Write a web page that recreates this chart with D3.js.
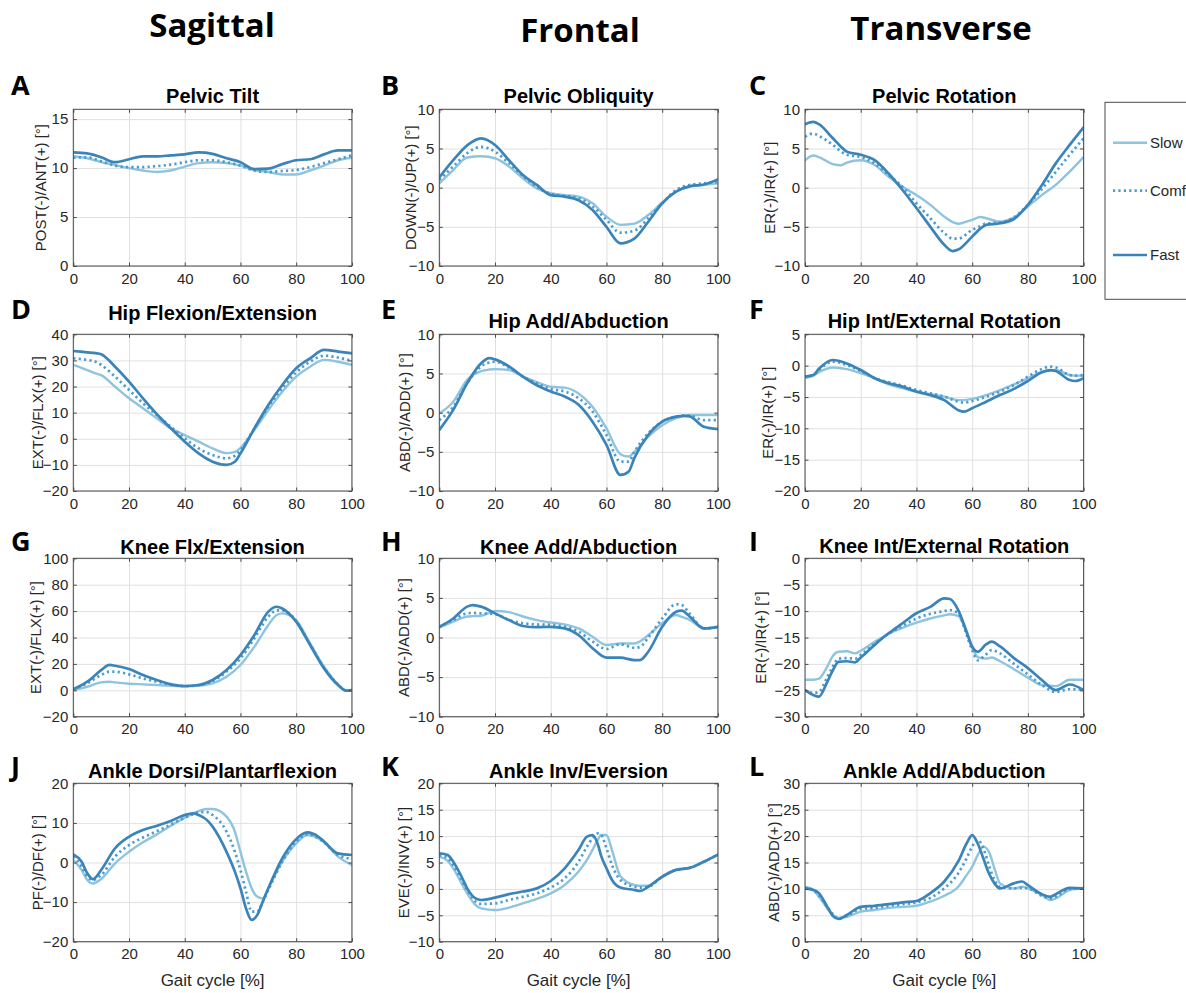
<!DOCTYPE html>
<html>
<head>
<meta charset="utf-8">
<script src="https://cdn.jsdelivr.net/npm/d3@7"></script>
<style>
  html, body { margin: 0; padding: 0; background: #ffffff; }
  svg { display: block; }
</style>
</head>
<body>
<svg id="fig" width="1186" height="993"></svg>
<script>
// ---------------------------------------------------------------
// Joint kinematics over the gait cycle at three walking speeds
// ---------------------------------------------------------------
const speeds = ["Slow", "Comfortable", "Fast"];
const gaitTicks = [0, 20, 40, 60, 80, 100];
const planes = ["Sagittal", "Frontal", "Transverse"];

// A — Pelvic tilt
const pelvicTiltX    = [0,5,10,15,20,25,30,35,40,45,50,55,60,65,70,75,80,85,90,95,100];
const pelvicTiltSlow = [11.2,11.0,10.6,10.3,10.0,9.75,9.6,9.75,10.15,10.5,10.6,10.5,10.25,9.8,9.6,9.35,9.35,9.75,10.25,10.8,11.05];
const pelvicTiltComf = [11.05,11.1,10.7,10.25,10.1,10.1,10.2,10.35,10.6,10.8,10.8,10.6,10.25,9.75,9.6,9.7,9.8,10.1,10.5,10.9,11.3];
const pelvicTiltFast = [11.6,11.5,11.1,10.6,10.9,11.2,11.2,11.3,11.4,11.6,11.45,11.0,10.6,9.9,9.95,10.4,10.8,10.9,11.4,11.8,11.8];
const pelvicTiltTicks = [0,5,10,15];

// B — Pelvic obliquity
const pelvicOblX    = [0,5,10,15,20,25,30,35,40,45,50,55,60,65,70,75,80,85,90,95,100];
const pelvicOblSlow = [0.55,2.25,3.85,4.0,3.75,2.7,1.2,-0.1,-0.7,-0.95,-1.15,-2.0,-3.7,-4.75,-4.6,-3.5,-1.9,-0.5,0.15,0.35,0.55];
const pelvicOblComf = [1.0,2.7,4.4,5.2,4.6,3.1,1.5,0.1,-0.8,-1.05,-1.35,-2.4,-4.1,-5.75,-5.5,-3.9,-2.0,-0.3,0.35,0.55,0.75];
const pelvicOblFast = [1.3,3.5,5.4,6.3,5.45,3.5,1.6,0.35,-0.95,-1.15,-1.6,-2.85,-5.0,-7.1,-6.5,-4.35,-2.0,-0.5,0.2,0.4,1.05];
const pelvicOblTicks = [-10,-5,0,5,10];

// C — Pelvic rotation
const pelvicRotX    = [0,3,5,10,13,15,20,25,30,35,40,45,50,53,55,60,63,65,70,75,80,85,90,95,100];
const pelvicRotSlow = [3.5,4.1,3.9,3.0,2.85,3.2,3.5,2.9,1.4,0.1,-0.95,-2.2,-3.7,-4.4,-4.6,-4.1,-3.75,-3.9,-4.35,-3.8,-2.4,-0.95,0.35,2.05,3.9];
const pelvicRotComf = [6.5,6.9,6.6,5.45,4.6,4.2,3.9,3.1,1.6,0.1,-2.0,-3.9,-5.8,-6.5,-6.5,-5.4,-4.9,-4.6,-4.45,-3.8,-2.2,-0.2,2.0,4.2,6.3];
const pelvicRotFast = [8.1,8.4,8.1,6.3,5.2,4.6,4.2,3.5,1.8,-0.3,-2.6,-5.0,-7.3,-8.1,-7.9,-6.25,-5.2,-4.75,-4.55,-4.0,-2.2,0.3,3.1,5.45,7.7];
const pelvicRotTicks = [-10,-5,0,5,10];

// D — Hip flexion/extension
const hipFlexX    = [0,5,8,10,15,20,25,30,35,40,45,50,55,58,60,65,70,75,80,85,90,95,100];
const hipFlexSlow = [28.3,26.3,25.0,24.4,19.9,15.5,11.7,7.8,4.0,1.4,-1.1,-3.7,-5.5,-5.0,-3.5,3.4,11.0,18.0,23.8,27.6,30.2,29.5,28.3];
const hipFlexComf = [30.8,30.2,29.5,28.3,23.8,18.7,13.6,9.1,4.6,0.2,-3.7,-6.2,-7.5,-6.5,-4.3,4.0,12.3,19.3,25.4,29.5,31.8,31.1,29.8];
const hipFlexFast = [33.6,33.1,32.8,32.4,27.6,21.9,15.5,9.4,4.0,-1.1,-5.6,-8.8,-10.0,-8.8,-5.6,4.0,12.9,20.6,27.0,30.8,34.0,33.4,32.7];
const hipFlexTicks = [-20,-10,0,10,20,30,40];

// E — Hip adduction/abduction
const hipAddX    = [0,5,10,15,18,20,25,30,35,40,45,50,55,60,65,68,70,75,80,85,88,90,95,100];
const hipAddSlow = [-0.1,1.4,4.2,5.3,5.5,5.55,5.45,4.6,3.9,3.3,3.2,2.45,0.75,-2.0,-5.3,-5.6,-5.0,-3.05,-1.6,-0.7,-0.4,-0.3,-0.3,-0.3];
const hipAddComf = [-0.95,0.75,3.75,5.9,6.4,6.5,5.75,4.6,3.75,3.0,2.7,1.85,0.15,-2.85,-6.25,-6.25,-5.0,-2.65,-1.15,-0.5,-0.35,-0.4,-0.95,-0.95];
const hipAddFast = [-2.2,0.35,3.75,6.3,6.95,6.8,5.9,4.6,3.5,2.7,2.05,1.0,-1.15,-4.1,-7.95,-7.5,-5.8,-2.85,-1.15,-0.5,-0.4,-0.5,-1.8,-2.1];
const hipAddTicks = [-10,-5,0,5,10];

// F — Hip internal/external rotation
const hipRotX    = [0,3,5,10,15,20,25,30,35,40,45,50,55,57,60,65,70,75,80,85,88,90,95,97,100];
const hipRotSlow = [-2.0,-1.6,-1.05,-0.3,-0.55,-1.2,-2.0,-3.0,-3.6,-4.15,-4.55,-4.95,-5.5,-5.5,-5.3,-4.7,-3.9,-3.0,-2.0,-1.05,-0.8,-0.7,-1.5,-1.6,-1.6];
const hipRotComf = [-1.75,-1.5,-0.7,0.65,0.1,-0.85,-2.0,-2.65,-3.2,-3.9,-4.4,-4.95,-5.75,-5.9,-5.65,-4.95,-4.15,-3.1,-1.75,-0.55,-0.15,-0.3,-1.5,-1.6,-1.5];
const hipRotFast = [-1.75,-1.5,-0.5,0.9,0.35,-0.7,-2.0,-2.8,-3.35,-4.15,-4.7,-5.5,-7.1,-7.35,-6.8,-5.75,-4.7,-3.7,-2.45,-1.05,-0.7,-0.85,-2.3,-2.45,-2.0];
const hipRotTicks = [-20,-15,-10,-5,0,5];

// G — Knee flexion/extension
const kneeFlexX    = [0,5,10,13,15,20,25,30,35,40,45,50,55,60,65,70,73,75,80,85,90,95,98,100];
const kneeFlexSlow = [0.2,2.7,6.0,6.5,6.0,5.0,4.5,4.0,3.5,3.2,3.5,5.3,10.3,19.2,33.1,49.5,57.1,58.3,53.0,35.5,17.9,4.5,-0.3,0.2];
const kneeFlexComf = [0.7,5.3,11.6,14.1,14.1,12.1,9.0,6.5,4.5,3.2,4.0,7.0,14.1,24.2,39.4,55.8,60.6,60.6,52.5,34.8,17.1,4.5,-0.3,0.2];
const kneeFlexFast = [0.7,6.5,15.3,19.2,18.6,16.1,11.6,7.8,4.5,3.2,4.0,7.8,15.3,26.7,41.9,59.6,63.3,62.0,52.0,34.3,16.6,4.0,-0.3,0.2];
const kneeFlexTicks = [-20,0,20,40,60,80,100];

// H — Knee adduction/abduction
const kneeAddX    = [0,5,10,12,15,20,25,30,35,40,45,50,55,60,65,70,72,75,80,85,87,90,95,100];
const kneeAddSlow = [1.25,2.0,2.65,2.7,2.75,3.35,3.2,2.65,2.2,1.9,1.65,1.15,0.1,-0.95,-0.75,-0.75,-0.5,0.3,1.8,2.85,2.6,2.2,1.15,1.35];
const kneeAddComf = [1.35,2.2,3.05,3.1,3.05,2.95,2.2,1.8,1.65,1.6,1.35,0.75,-0.5,-1.45,-0.85,-1.3,-1.2,0.0,2.4,4.2,4.1,2.95,1.15,1.35];
const kneeAddFast = [1.35,2.4,3.9,4.1,3.9,3.05,2.2,1.45,1.3,1.35,1.15,0.3,-1.35,-2.55,-2.55,-2.85,-2.85,-1.8,1.35,3.25,3.4,2.6,1.15,1.35];
const kneeAddTicks = [-10,-5,0,5,10];

// I — Knee internal/external rotation
const kneeRotX    = [0,3,5,8,10,12,15,18,20,25,30,35,40,45,50,52,55,58,60,62,65,67,70,75,80,85,90,95,100];
const kneeRotSlow = [-23.0,-23.0,-22.8,-20.5,-18.5,-17.7,-17.6,-18.0,-17.5,-15.8,-14.3,-13.2,-12.2,-11.4,-10.8,-10.6,-10.9,-14.0,-17.0,-18.7,-19.0,-18.8,-19.5,-21.0,-22.6,-24.0,-24.2,-23.0,-23.0];
const kneeRotComf = [-25.0,-25.5,-25.3,-22.5,-20.5,-19.0,-18.9,-19.0,-18.3,-16.2,-14.3,-12.8,-11.4,-10.5,-10.0,-9.8,-10.4,-14.5,-17.4,-19.3,-18.2,-17.4,-18.0,-20.0,-22.0,-24.0,-25.3,-24.8,-24.9];
const kneeRotFast = [-24.95,-25.9,-26.2,-23.4,-21.2,-19.6,-19.5,-19.7,-18.8,-16.4,-14.2,-12.3,-10.4,-9.2,-7.6,-7.7,-9.8,-13.9,-16.7,-17.7,-16.3,-15.8,-16.7,-18.9,-20.8,-23.05,-24.95,-23.9,-24.95];
const kneeRotTicks = [-30,-25,-20,-15,-10,-5,0];

// J — Ankle dorsi/plantarflexion
const ankleFlexX    = [0,3,5,7,10,15,20,25,30,35,40,43,45,48,50,55,58,60,62,64,66,68,70,75,80,84,88,90,95,100];
const ankleFlexSlow = [0.6,-1.9,-4.4,-5.3,-4.2,-0.2,2.7,5.1,7.1,9.3,11.3,12.4,13.0,13.5,13.5,11.6,7.8,2.7,-2.3,-6.5,-8.6,-9.05,-6.5,0.2,4.8,6.95,6.1,5.1,1.5,-0.6];
const ankleFlexComf = [1.5,-1.0,-3.6,-4.4,-3.2,1.5,4.4,6.3,7.9,9.6,11.3,12.2,12.7,12.7,12.0,7.8,2.7,-1.9,-7.4,-12.4,-12.4,-9.9,-6.95,0.2,5.3,7.1,6.1,5.1,1.9,0.9];
const ankleFlexFast = [2.05,0.2,-2.7,-4.2,-1.9,3.6,6.5,8.2,9.3,10.5,12.0,12.4,12.0,10.7,9.05,2.7,-2.3,-6.5,-11.6,-14.5,-13.3,-9.9,-6.5,1.05,5.9,7.6,6.5,5.3,2.3,1.9];
const ankleFlexTicks = [-20,-10,0,10,20];

// K — Ankle inversion/eversion
const ankleInvX    = [0,3,5,8,10,13,15,20,25,30,35,40,45,50,53,55,57,58,60,62,65,70,72,75,80,85,90,95,100];
const ankleInvSlow = [6.1,5.3,3.9,1.05,-0.85,-3.05,-3.7,-4.0,-3.55,-2.75,-1.9,-0.85,0.75,3.3,5.5,7.4,9.4,10.2,10.2,7.3,2.4,0.75,0.6,0.6,2.3,3.6,4.0,5.15,6.5];
const ankleInvComf = [6.4,5.8,4.5,1.7,-0.2,-2.4,-2.85,-2.75,-2.1,-1.5,-0.85,0.25,2.0,5.15,8.0,9.6,10.5,10.3,7.7,4.5,1.7,0.4,0.25,0.4,2.3,3.6,4.0,5.15,6.5];
const ankleInvFast = [6.75,6.4,5.15,2.3,0.1,-1.8,-2.1,-1.65,-1.0,-0.5,0.1,1.5,3.9,7.4,9.9,10.2,8.3,6.4,3.9,1.7,0.25,-0.2,-0.4,0.4,2.3,3.6,4.0,5.15,6.5];
const ankleInvTicks = [-10,-5,0,5,10,15,20];

// L — Ankle adduction/abduction
const ankleAddX    = [0,3,5,8,10,12,15,20,25,30,35,40,45,50,55,58,60,62,64,66,68,70,75,78,80,85,88,90,95,100];
const ankleAddSlow = [10.4,9.8,8.5,6.3,5.05,4.5,4.7,5.7,6.0,6.4,6.6,6.8,7.6,8.7,10.4,12.6,14.2,16.4,18.0,17.05,13.9,11.05,10.1,10.4,10.1,8.85,7.9,8.2,9.8,10.1];
const ankleAddComf = [10.2,9.8,8.8,6.6,5.2,4.4,4.9,6.2,6.4,6.8,7.1,7.45,8.3,10.1,12.95,15.8,18.0,19.3,17.7,14.5,11.7,10.4,10.1,10.2,10.1,8.7,8.2,8.5,10.0,10.1];
const ankleAddFast = [10.1,9.8,9.2,6.6,4.9,4.3,5.05,6.6,6.8,7.1,7.45,7.7,9.2,11.4,15.2,18.6,20.2,18.6,15.8,12.95,11.05,10.1,11.05,11.4,10.7,9.0,8.5,9.0,10.2,10.1];
const ankleAddTicks = [0,5,10,15,20,25,30];

// Panel table (reading order: rows = joints, columns = planes)
const panels = [
  { letter: "A", title: "Pelvic Tilt", ylabel: "POST(-)/ANT(+) [°]", domain: [0, 16], ticks: pelvicTiltTicks, x: pelvicTiltX, slow: pelvicTiltSlow, comf: pelvicTiltComf, fast: pelvicTiltFast },
  { letter: "B", title: "Pelvic Obliquity", ylabel: "DOWN(-)/UP(+) [°]", domain: [-10, 10], ticks: pelvicOblTicks, x: pelvicOblX, slow: pelvicOblSlow, comf: pelvicOblComf, fast: pelvicOblFast },
  { letter: "C", title: "Pelvic Rotation", ylabel: "ER(-)/IR(+) [°]", domain: [-10, 10], ticks: pelvicRotTicks, x: pelvicRotX, slow: pelvicRotSlow, comf: pelvicRotComf, fast: pelvicRotFast },
  { letter: "D", title: "Hip Flexion/Extension", ylabel: "EXT(-)/FLX(+) [°]", domain: [-20, 40], ticks: hipFlexTicks, x: hipFlexX, slow: hipFlexSlow, comf: hipFlexComf, fast: hipFlexFast },
  { letter: "E", title: "Hip Add/Abduction", ylabel: "ABD(-)/ADD(+) [°]", domain: [-10, 10], ticks: hipAddTicks, x: hipAddX, slow: hipAddSlow, comf: hipAddComf, fast: hipAddFast },
  { letter: "F", title: "Hip Int/External Rotation", ylabel: "ER(-)/IR(+) [°]", domain: [-20, 5], ticks: hipRotTicks, x: hipRotX, slow: hipRotSlow, comf: hipRotComf, fast: hipRotFast },
  { letter: "G", title: "Knee Flx/Extension", ylabel: "EXT(-)/FLX(+) [°]", domain: [-20, 100], ticks: kneeFlexTicks, x: kneeFlexX, slow: kneeFlexSlow, comf: kneeFlexComf, fast: kneeFlexFast },
  { letter: "H", title: "Knee Add/Abduction", ylabel: "ABD(-)/ADD(+) [°]", domain: [-10, 10], ticks: kneeAddTicks, x: kneeAddX, slow: kneeAddSlow, comf: kneeAddComf, fast: kneeAddFast },
  { letter: "I", title: "Knee Int/External Rotation", ylabel: "ER(-)/IR(+) [°]", domain: [-30, 0], ticks: kneeRotTicks, x: kneeRotX, slow: kneeRotSlow, comf: kneeRotComf, fast: kneeRotFast },
  { letter: "J", title: "Ankle Dorsi/Plantarflexion", ylabel: "PF(-)/DF(+) [°]", domain: [-20, 20], ticks: ankleFlexTicks, x: ankleFlexX, slow: ankleFlexSlow, comf: ankleFlexComf, fast: ankleFlexFast },
  { letter: "K", title: "Ankle Inv/Eversion", ylabel: "EVE(-)/INV(+) [°]", domain: [-10, 20], ticks: ankleInvTicks, x: ankleInvX, slow: ankleInvSlow, comf: ankleInvComf, fast: ankleInvFast },
  { letter: "L", title: "Ankle Add/Abduction", ylabel: "ABD(-)/ADD(+) [°]", domain: [0, 30], ticks: ankleAddTicks, x: ankleAddX, slow: ankleAddSlow, comf: ankleAddComf, fast: ankleAddFast }
];

// ---------------------------------------------------------------
// Layout and styling
// ---------------------------------------------------------------
const FONT = '"Liberation Sans", Arial, Helvetica, sans-serif';
const HEAD_FONT = '"Open Sans", "Noto Sans", sans-serif';
const AXIS_COLOR = "#4a4a4a";
const TEXT_COLOR = "#262626";
const GRID_COLOR = "#e0e0e0";

const colLeft = [73.3, 439.3, 805];
const plotW = 278.6;
const rowTop = [109.3, 334.3, 558.3, 783.3];
const rowH = [156.7, 156.7, 158.4, 158.4];
const titleBase = [103, 103, 103, 320, 328, 328, 554, 554, 553, 778, 778, 778];
const ylabelOffset = [33, 29, 35, 36, 35, 37, 38, 36, 44, 36, 36, 31];
const letterX = [11, 381, 749];
const letterBase = [95, 319, 551, 776];
const headerX = [212, 580, 941];
const headerBase = [37, 42, 40];

const seriesStyle = {
  slow: { color: "#8ec4de", width: 2.4, dash: null },
  comf: { color: "#4b9bd0", width: 2.7, dash: "2.2,3.2" },
  fast: { color: "#3a84ba", width: 2.7, dash: null }
};

const svg = d3.select("#fig");
svg.append("rect").attr("width", 1186).attr("height", 993).attr("fill", "#ffffff");

// Column headers
svg.selectAll("text.plane").data(planes).join("text")
  .attr("class", "plane")
  .attr("x", (d, i) => headerX[i])
  .attr("y", (d, i) => headerBase[i])
  .attr("text-anchor", "middle")
  .attr("font-family", HEAD_FONT)
  .attr("font-weight", 700)
  .attr("font-size", 33)
  .attr("fill", "#000")
  .text(d => d);

const defs = svg.append("defs");

panels.forEach((p, i) => {
  const col = i % 3, row = Math.floor(i / 3);
  const W = plotW, H = rowH[row];
  const left = colLeft[col], top = rowTop[row];

  const x = d3.scaleLinear().domain([0, 100]).range([0, W]);
  const y = d3.scaleLinear().domain(p.domain).range([H, 0]);

  const g = svg.append("g").attr("transform", `translate(${left},${top})`);

  // Grid
  const gx = g.append("g").attr("transform", `translate(0,${H})`)
    .call(d3.axisBottom(x).tickValues(gaitTicks).tickSize(-H).tickFormat(""));
  const gy = g.append("g")
    .call(d3.axisLeft(y).tickValues(p.ticks).tickSize(-W).tickFormat(""));
  [gx, gy].forEach(s => {
    s.select(".domain").remove();
    s.selectAll("line").attr("stroke", GRID_COLOR).attr("stroke-width", 1);
  });

  // Curves
  const clipId = `clip-${p.letter}`;
  defs.append("clipPath").attr("id", clipId)
    .append("rect").attr("x", 0).attr("y", 0).attr("width", W).attr("height", H);

  const line = d3.line()
    .x(d => x(d[0]))
    .y(d => y(d[1]))
    .curve(d3.curveMonotoneX);

  const curves = g.append("g").attr("clip-path", `url(#${clipId})`);
  ["slow", "comf", "fast"].forEach(key => {
    const st = seriesStyle[key];
    const pts = p.x.map((xv, k) => [xv, p[key][k]]);
    curves.append("path")
      .datum(pts)
      .attr("d", line)
      .attr("fill", "none")
      .attr("stroke", st.color)
      .attr("stroke-width", st.width)
      .attr("stroke-linejoin", "round")
      .attr("stroke-linecap", st.dash ? "butt" : "round")
      .attr("stroke-dasharray", st.dash);
  });

  // Axes: ticks point inward on all four sides
  const tickLen = 3.5;
  const styleAxis = s => {
    s.select(".domain").remove();
    s.selectAll("line").attr("stroke", AXIS_COLOR).attr("stroke-width", 1);
    s.selectAll("text")
      .attr("font-family", FONT)
      .attr("font-size", 15)
      .attr("fill", TEXT_COLOR);
  };
  g.append("g").attr("transform", `translate(0,${H})`)
    .call(d3.axisBottom(x).tickValues(gaitTicks).tickSizeInner(-tickLen).tickSizeOuter(0).tickPadding(7))
    .call(styleAxis);
  g.append("g")
    .call(d3.axisTop(x).tickValues(gaitTicks).tickSizeInner(-tickLen).tickSizeOuter(0).tickFormat(""))
    .call(styleAxis);
  g.append("g")
    .call(d3.axisLeft(y).tickValues(p.ticks).tickSizeInner(-tickLen).tickSizeOuter(0).tickPadding(5))
    .call(styleAxis);
  g.append("g").attr("transform", `translate(${W},0)`)
    .call(d3.axisRight(y).tickValues(p.ticks).tickSizeInner(-tickLen).tickSizeOuter(0).tickFormat(""))
    .call(styleAxis);

  // Axes box
  g.append("rect")
    .attr("x", 0).attr("y", 0).attr("width", W).attr("height", H)
    .attr("fill", "none").attr("stroke", AXIS_COLOR).attr("stroke-width", 1);

  // Title
  g.append("text")
    .attr("x", W / 2)
    .attr("y", titleBase[i] - top)
    .attr("text-anchor", "middle")
    .attr("font-family", FONT)
    .attr("font-weight", 700)
    .attr("font-size", 20)
    .attr("fill", "#000")
    .text(p.title);

  // Y label
  g.append("text")
    .attr("transform", `translate(${-ylabelOffset[i]},${H / 2}) rotate(-90)`)
    .attr("text-anchor", "middle")
    .attr("dy", "0.35em")
    .attr("font-family", FONT)
    .attr("font-size", 15)
    .attr("fill", TEXT_COLOR)
    .text(p.ylabel);

  // X label on the bottom row
  if (row === 3) {
    g.append("text")
      .attr("x", W / 2)
      .attr("y", H + 44)
      .attr("text-anchor", "middle")
      .attr("font-family", FONT)
      .attr("font-size", 17)
      .attr("fill", TEXT_COLOR)
      .text("Gait cycle [%]");
  }

  // Panel letter
  svg.append("text")
    .attr("x", letterX[col])
    .attr("y", letterBase[row])
    .attr("font-family", HEAD_FONT)
    .attr("font-weight", 700)
    .attr("font-size", 27)
    .attr("fill", "#000")
    .text(p.letter);
});

// Legend (the frame runs past the right edge of the figure)
const legendY = [142.7, 190.7, 255];
const legend = svg.append("g");
legend.append("rect")
  .attr("x", 1105).attr("y", 102.3).attr("width", 120).attr("height", 197)
  .attr("fill", "#ffffff").attr("stroke", AXIS_COLOR).attr("stroke-width", 1);
["slow", "comf", "fast"].forEach((key, k) => {
  const st = seriesStyle[key];
  legend.append("line")
    .attr("x1", 1113).attr("x2", 1147)
    .attr("y1", legendY[k]).attr("y2", legendY[k])
    .attr("stroke", st.color)
    .attr("stroke-width", st.width)
    .attr("stroke-dasharray", st.dash);
  legend.append("text")
    .attr("x", 1150).attr("y", legendY[k])
    .attr("dy", "0.35em")
    .attr("font-family", FONT)
    .attr("font-size", 15)
    .attr("fill", TEXT_COLOR)
    .text(speeds[k]);
});
</script>
</body>
</html>
